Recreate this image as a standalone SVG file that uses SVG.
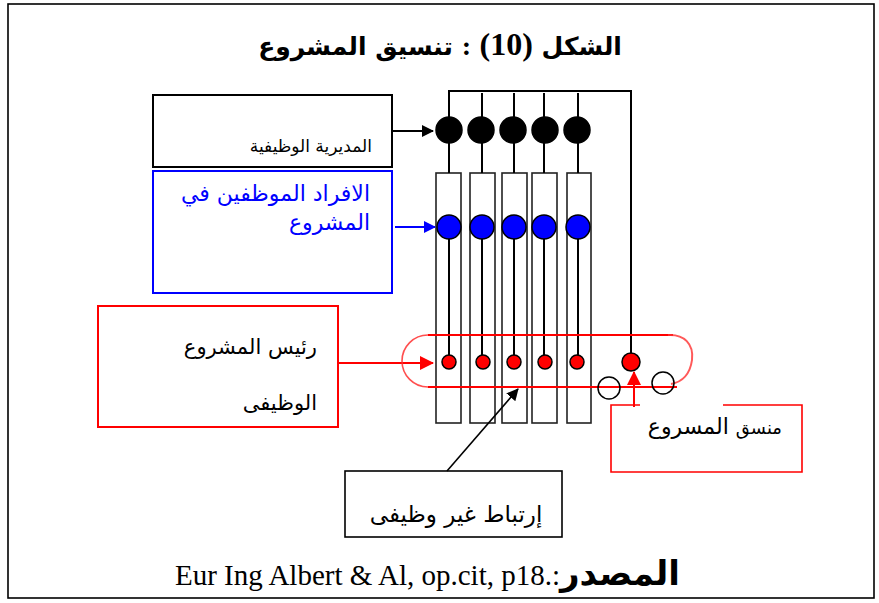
<svg xmlns="http://www.w3.org/2000/svg" width="879" height="603" viewBox="0 0 879 603">
  <defs>
    <marker id="ahBlack" markerWidth="12" markerHeight="12" refX="11" refY="6" orient="auto" markerUnits="userSpaceOnUse">
      <path d="M0,0 L12,6 L0,12 Z" fill="#000"/>
    </marker>
    <marker id="ahBlue" markerWidth="12" markerHeight="12" refX="11" refY="6" orient="auto" markerUnits="userSpaceOnUse">
      <path d="M0,0 L12,6 L0,12 Z" fill="#0000ff"/>
    </marker>
    <marker id="ahRed" markerWidth="14" markerHeight="14" refX="13" refY="7" orient="auto" markerUnits="userSpaceOnUse">
      <path d="M0,0 L14,7 L0,14 Z" fill="#ff0000"/>
    </marker>
  </defs>
  <style>
    .ar { font-family: "DejaVu Serif", "DejaVu Sans", serif; }
    .sans { font-family: "DejaVu Sans", "Liberation Sans", sans-serif; }
    .lat { font-family: "Liberation Serif", "DejaVu Serif", serif; }
    .col { fill: #fff; stroke: #222; stroke-width: 1.6; }
    .stem { stroke: #000; stroke-width: 2; fill: none; }
    .dk { fill: #000; stroke: #000; stroke-width: 1.5; }
    .bl { fill: #0000ff; stroke: #000; stroke-width: 1.5; }
    .rd { fill: #ff0000; stroke: #000; stroke-width: 1.5; }
    .ring { fill: none; stroke: #000; stroke-width: 1.5; }
  </style>

  <rect width="879" height="603" fill="#fff"/>
  <!-- page frame -->
  <rect x="8" y="4" width="866" height="594" fill="none" stroke="#000" stroke-width="1.6"/>

  <!-- title -->
  <text x="440" y="55" direction="rtl" text-anchor="middle" class="ar" font-size="25" font-weight="bold">الشكل <tspan class="lat" font-size="32" font-weight="bold">(10)</tspan> : تنسيق المشروع</text>

  <!-- label boxes -->
  <g id="functional-management">
    <rect x="153" y="95" width="239" height="72" fill="#fff" stroke="#000" stroke-width="2"/>
    <text x="372" y="152" text-anchor="end" class="ar" font-size="17">المديرية الوظيفية</text>
  </g>
  <g id="project-staff">
    <rect x="153" y="171" width="239" height="122" fill="#fff" stroke="#0000ff" stroke-width="2"/>
    <text x="370" y="201" text-anchor="end" class="ar" font-size="22" fill="#0000ff">الافراد الموظفين في</text>
    <text x="370" y="230" text-anchor="end" class="ar" font-size="22" fill="#0000ff">المشروع</text>
  </g>
  <g id="functional-project-head">
    <rect x="98" y="306" width="240" height="121" fill="#fff" stroke="#ff0000" stroke-width="2"/>
    <text x="317" y="354" text-anchor="end" class="ar" font-size="21">رئيس المشروع</text>
    <text x="317" y="410" text-anchor="end" class="ar" font-size="21">الوظيفى</text>
  </g>
  <g id="project-coordinator">
    <path d="M640,405 L611,405 L611,472 L802,472 L802,405 L723,405" fill="none" stroke="#ff0000" stroke-width="1.6"/>
    <text x="782" y="434" text-anchor="end" class="sans" font-size="22"><tspan font-size="18">منسق</tspan> المسروع</text>
  </g>
  <g id="informal-link">
    <rect x="345" y="471" width="217" height="66" fill="#fff" stroke="#000" stroke-width="1.6"/>
    <text x="456" y="522" text-anchor="middle" class="ar" font-size="23">إرتباط غير وظيفى</text>
  </g>

  <!-- matrix columns -->
  <g id="columns">
    <rect class="col" x="436" y="173" width="25" height="250"/>
    <rect class="col" x="470" y="173" width="25" height="250"/>
    <rect class="col" x="502" y="173" width="25" height="250"/>
    <rect class="col" x="532" y="173" width="25" height="250"/>
    <rect class="col" x="567" y="173" width="24" height="250"/>
  </g>

  <!-- connectors -->
  <g id="connectors">
    <!-- top bus and coordinator riser -->
    <path class="stem" d="M449,130 L449,91 L631,91 L631,355"/>
    <path class="stem" d="M482,93 V130 M514,93 V130 M544,93 V130 M578,93 V130"/>
    <!-- black dots to column tops -->
    <path class="stem" d="M449,130 V173 M482,130 V173 M514,130 V173 M544,130 V173 M578,130 V173"/>
    <!-- blue dots to red dots -->
    <path class="stem" d="M449,227 V362 M482,227 V362 M514,227 V362 M544,227 V362 M578,227 V362"/>

    <!-- label arrows -->
    <line x1="392" y1="131" x2="433" y2="131" stroke="#000" stroke-width="2" marker-end="url(#ahBlack)"/>
    <line x1="395" y1="227" x2="435" y2="227" stroke="#0000ff" stroke-width="2" marker-end="url(#ahBlue)"/>
    <line x1="338" y1="363" x2="433" y2="363" stroke="#ff0000" stroke-width="2" marker-end="url(#ahRed)"/>

    <!-- project loop -->
    <path d="M428,335 L673,335 M428,387 L677,387" stroke="#ff0000" stroke-width="2" fill="none"/>
    <path d="M428,335 A26,26 0 0 0 428,387" stroke="#ff3030" stroke-width="1.6" fill="none" opacity="0.85"/>
    <path d="M668,335 C684,334 694,344 692,360 C690,374 682,382 671,384" stroke="#ff3030" stroke-width="2" fill="none" opacity="0.8"/>

    <!-- coordinator arrow -->
    <line x1="634" y1="407" x2="634" y2="372" stroke="#ff0000" stroke-width="2" marker-end="url(#ahRed)"/>
    <!-- informal link arrow -->
    <line x1="447" y1="471" x2="518" y2="389" stroke="#000" stroke-width="1.6" marker-end="url(#ahBlack)"/>
  </g>

  <!-- dots -->
  <g id="functional-dots">
    <circle class="dk" cx="449" cy="130" r="13"/>
    <circle class="dk" cx="481" cy="130" r="13"/>
    <circle class="dk" cx="513" cy="130" r="13"/>
    <circle class="dk" cx="545" cy="130" r="13"/>
    <circle class="dk" cx="577" cy="130" r="13"/>
  </g>
  <g id="staff-dots">
    <circle class="bl" cx="449" cy="227" r="12"/>
    <circle class="bl" cx="482" cy="227" r="12"/>
    <circle class="bl" cx="514" cy="227" r="12"/>
    <circle class="bl" cx="544" cy="227" r="12"/>
    <circle class="bl" cx="578" cy="227" r="12"/>
  </g>
  <g id="head-dots">
    <circle class="rd" cx="449" cy="362" r="7"/>
    <circle class="rd" cx="483" cy="362" r="7"/>
    <circle class="rd" cx="514" cy="362" r="7"/>
    <circle class="rd" cx="545" cy="362" r="7"/>
    <circle class="rd" cx="577" cy="362" r="7"/>
    <circle class="rd" cx="631" cy="362" r="9"/>
  </g>
  <g id="rings">
    <circle class="ring" cx="609" cy="388" r="11"/>
    <circle class="ring" cx="663" cy="383" r="11"/>
  </g>

  <!-- source line -->
  <text x="175" y="585" class="lat" font-size="29">Eur Ing Albert &amp; Al, op.cit, p18.:<tspan class="ar" font-weight="bold" font-size="34">المصدر</tspan></text>
</svg>
